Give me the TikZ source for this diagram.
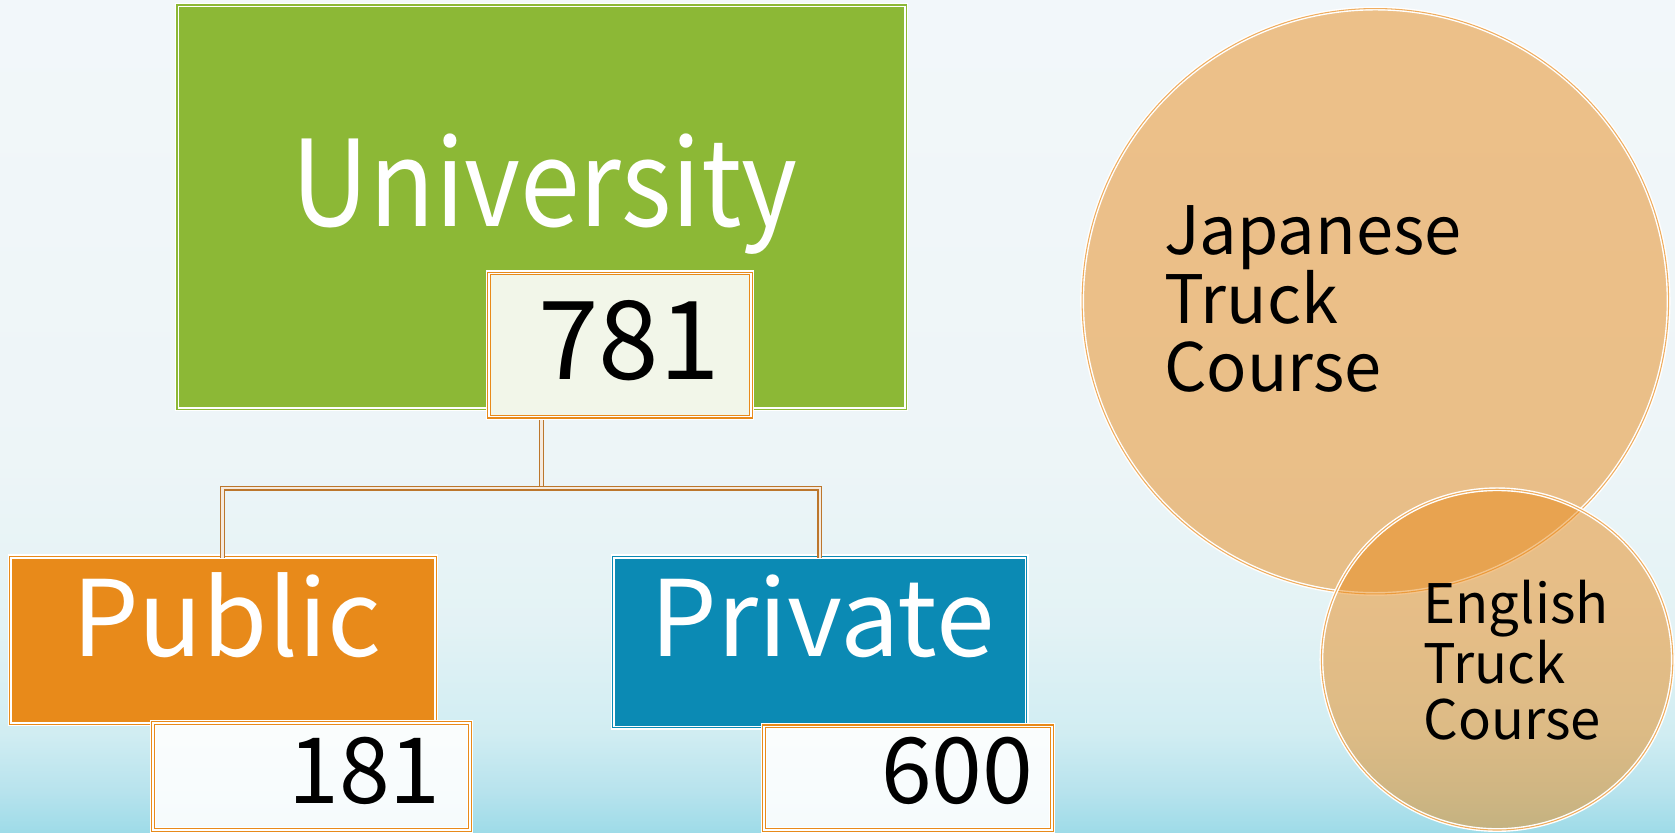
\documentclass[tikz,border=0pt]{standalone}
\usepackage{fontspec}
\setmainfont{Noto Sans CJK JP}
\newfontfamily\narrowfont[FakeStretch=0.9]{Noto Sans CJK JP}
\usetikzlibrary{calc,positioning,shapes.geometric}
\def\pxu{0.010683cm}
\definecolor{uniGreen}{RGB}{140,184,54}
\definecolor{pubOrange}{RGB}{232,138,26}
\definecolor{privBlue}{RGB}{11,138,180}
\definecolor{linkBrown}{RGB}{188,118,44}
\definecolor{numFill}{RGB}{242,246,233}
\pgfdeclareverticalshading{slideback}{100bp}{rgb(0bp)=(0.62,0.86,0.91); rgb(25bp)=(0.62,0.86,0.91); rgb(27.5bp)=(0.72,0.89,0.93); rgb(31bp)=(0.82,0.93,0.95); rgb(37.5bp)=(0.89,0.95,0.96); rgb(47.5bp)=(0.93,0.96,0.97); rgb(75bp)=(0.95,0.97,0.98); rgb(100bp)=(0.95,0.97,0.98)}
\tikzset{
  orgbox/.style={rectangle, inner sep=0pt, outer sep=0pt, line width=0.3pt, double distance=0.5pt,
    preaction={draw=white, line width=1.8pt}},
  numbox/.style={orgbox, draw=pubOrange, double=white, fill=white, fill opacity=0.9, draw opacity=1},
  link/.style={draw=linkBrown, line width=0.35pt, double=white!85!linkBrown, double distance=0.7pt},
  bubble/.style={ellipse, inner sep=0pt, outer sep=0pt, draw=white, line width=0.4pt,
    double=pubOrange!70!white, double distance=0.3pt, fill=pubOrange, fill opacity=0.5},
  headtext/.style={text=white, inner sep=0pt, font=\narrowfont\fontsize{34}{40}\selectfont},
  subtext/.style={text=white, inner sep=0pt, font=\fontsize{30}{36}\selectfont},
  numtext/.style={text=black, inner sep=0pt, font=\fontsize{31}{36}\selectfont},
  bubtext/.style={text=black, inner sep=0pt, align=left}
}
\begin{document}
\begin{tikzpicture}[x=\pxu,y=-\pxu]
		%%%%% START %%%%%
		
		\shade[shading=slideback] (0,0) rectangle (1568,779);
		\useasboundingbox (0,0) rectangle (1568,779);
		
		\node[orgbox, draw=uniGreen, double=white, fill=uniGreen, minimum width={680*\pxu}, minimum height={376*\pxu}] (univ) at (507,194) {};
		\node[headtext, anchor=base] (univtext) at (510,212) {University};
		
		\node[orgbox, draw=pubOrange, double=white, fill=pubOrange, minimum width={397*\pxu}, minimum height={155*\pxu}] (pub) at (208.5,599.5) {};
		\node[subtext, anchor=base] (pubtext) at (212,615) {Public};
		
		\node[orgbox, draw=privBlue, double=white, fill=privBlue, minimum width={385*\pxu}, minimum height={158*\pxu}] (priv) at (767.5,601) {};
		\node[subtext, anchor=base] (privtext) at (770,615) {Private};
		
		\coordinate (fork) at ($(univ.south)+(0,75)$);
		\draw[link] (univ.south) -- (fork);
		\draw[link] (fork) -| (pub.north);
		\draw[link] (fork) -| (priv.north);
		
		\node[orgbox, draw=pubOrange, double=white, fill=numFill, minimum width={245*\pxu}, minimum height={134*\pxu}] (univnum) at (580.5,323) {};
		\node[numtext, anchor=base] (univnumtext) at (589,355) {781};
		
		\node[numbox, minimum width={297*\pxu}, minimum height={100*\pxu}] (pubnum) at (291.5,727) {};
		\node[numtext, anchor=base east, font=\fontsize{26}{30}\selectfont] (pubnumtext) at (413,752) {181};
		
		\node[numbox, minimum width={270*\pxu}, minimum height={97*\pxu}] (privnum) at (850,728.5) {};
		\node[numtext, anchor=base east, font=\fontsize{26}{30}\selectfont] (privnumtext) at (968,752) {600};
		
		\node[bubble, minimum width={549*\pxu}, minimum height={548*\pxu}] (jcourse) at (1287.5,282) {};
		\node[bubble, minimum width={329*\pxu}, minimum height={319*\pxu}] (ecourse) at (1401.5,617.5) {};
		\node[bubtext, anchor=north west, font=\fontsize{19}{19.5}\selectfont] (jtext) at (1089,192) {Japanese\\Truck\\Course};
		\node[bubtext, anchor=north west, font=\fontsize{15.5}{16}\selectfont] (etext) at (1332,542) {English\\Truck\\Course};
		
		%%%%% END %%%%%
	\end{tikzpicture}
\end{document}
